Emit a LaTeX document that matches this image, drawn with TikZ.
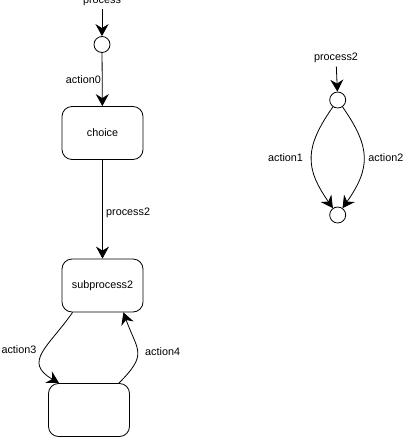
\documentclass[tikz,border=0pt]{standalone}
\usepackage{fontspec}
\setmainfont{Liberation Sans}
\usetikzlibrary{arrows.meta}
\newcommand{\pseudo}[3]{\node[draw,circle,minimum size=16pt,inner sep=0pt] (#1) at (#2,#3) {};}
\newcommand{\state}[4]{\node[draw,rectangle,rounded corners=10pt,minimum width=81pt,minimum height=53pt] (#1) at (#2,#3) {#4};}
\newcommand{\trans}[2]{\draw[-{Stealth[length=12pt,width=13pt,inset=4pt]}] (#1) -- (#2);}
\newcommand{\transl}[4]{\draw[-{Stealth[length=12pt,width=13pt,inset=4pt]}] (#1) -- node[#4] {#3} (#2);}
\newcommand{\transc}[7]{\draw[-{Stealth[length=12pt,width=13pt,inset=4pt]}] (#1) to[out=#3,in=#4,looseness=#5] node[midway,#7] {#6} (#2);}

\begin{document}
\begin{tikzpicture}[x=1pt,y=-1pt,line width=0.8pt,font=\fontsize{10.8}{12}\selectfont]
    \useasboundingbox (0,0) rectangle (413,437);
    \node (in1) at (102,1.5) {process}; \node (in2) at (336,58) {process2};
    \pseudo{c1}{102}{44.5}    \state{choice}{102.5}{133}{choice}
    \state{sub}{102.5}{285.5}{subprocess2}    \state{low}{89}{410}{}
    \pseudo{c2}{337.7}{100}    \pseudo{c3}{337.7}{215}
    \trans{in1}{c1}\trans{in2}{c2}
    \transl{c1}{choice}{action0}{midway,left,inner sep=1pt}\transl{choice}{sub}{process2}{pos=0.54,right}
    \transc{[xshift=11pt]sub.south west}{[xshift=11pt]low.north west}{235}{150}{1.5}{action3}{left,xshift=-3pt,yshift=3pt}
    \transc{[xshift=-11pt]low.north east}{[xshift=-20pt]sub.south east}{45}{-70}{1.5}{action4}{right,xshift=4pt}
    \transc{c2}{c3}{-125}{125}{1.25}{action1}{left,xshift=-5pt}
    \transc{c2}{c3}{-55}{55}{1.25}{action2}{right,xshift=1pt}
\end{tikzpicture}
\end{document}
